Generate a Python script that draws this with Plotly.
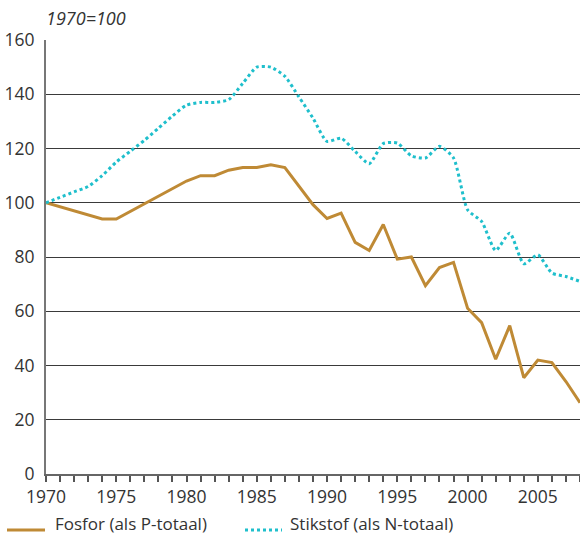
import plotly.graph_objects as go

years = list(range(1970, 2009))

# Fosfor (als P-totaal), index 1970=100
fosfor = [100, 98.5, 97, 95.5, 94, 94, 96.8, 99.6, 102.4, 105.2,
          108, 110, 110, 112, 113, 113, 114, 113, 106, 99.3,
          94.2, 96.2, 85.4, 82.4, 92, 79.2, 80, 69.4, 76.1, 78,
          61.1, 55.8, 42.3, 54.7, 35.5, 42, 41.1, 34.1, 26.3]

# Stikstof (als N-totaal), index 1970=100
stikstof = [100, 102, 104, 106, 110, 115, 119, 123, 127.5, 132,
            136, 137, 137, 138, 144, 150, 150, 146.6, 139, 131.2,
            122.6, 123.8, 118.9, 114.4, 121.8, 122, 117.3, 116.5, 120.8, 116.5,
            97.4, 93.1, 82.4, 88.8, 77.5, 80.8, 74.1, 72.8, 71]

y_ticks = [0, 20, 40, 60, 80, 100, 120, 140, 160]
x_ticks = [1970, 1975, 1980, 1985, 1990, 1995, 2000, 2005]
series_names = ["Fosfor (als P-totaal)", "Stikstof (als N-totaal)"]
series_colors = ["#bf8a35", "#1fbfcc"]

FONT = "Open Sans"
TXT = "#333333"

W, H = 580, 536
ML, MR, MT, MB = 46, 0, 40, 62
PW, PH = W - ML - MR, H - MT - MB


def px_x(px):
    return (px - ML) / PW


def px_y(py):
    return (H - MB - py) / PH


fig = go.Figure()
fig.add_trace(go.Scatter(
    x=years, y=fosfor, mode="lines", name=series_names[0],
    line=dict(color=series_colors[0], width=3),
))
fig.add_trace(go.Scatter(
    x=years, y=stikstof, mode="lines", name=series_names[1],
    line=dict(color=series_colors[1], width=3, dash="dot",
              shape="spline", smoothing=0.6),
))

# legend drawn below the axis: sample line + label for each series
legend_items = [
    (7, 45, "solid", 53),
    (245, 282, "dot", 288),
]
shapes = []
annotations = []
for (x0, x1, dash, tx), name, col in zip(legend_items, series_names, series_colors):
    shapes.append(dict(
        type="line", xref="paper", yref="paper",
        x0=px_x(x0), x1=px_x(x1), y0=px_y(530), y1=px_y(530),
        line=dict(color=col, width=3, dash=dash),
    ))
    annotations.append(dict(
        text=name, xref="paper", yref="paper", x=px_x(tx), y=px_y(523),
        xanchor="left", yanchor="middle", showarrow=False,
        font=dict(family=FONT, size=17, color=TXT),
    ))

annotations.append(dict(
    text="<i>1970=100</i>", x=px_x(44), xref="paper", xanchor="left",
    y=px_y(18), yref="paper", yanchor="middle", showarrow=False,
    font=dict(family=FONT, size=18, color=TXT),
))

fig.update_layout(
    width=W, height=H,
    margin=dict(l=ML, r=MR, t=MT, b=MB),
    paper_bgcolor="white", plot_bgcolor="white",
    font=dict(family=FONT, size=17, color=TXT),
    showlegend=False,
    xaxis=dict(
        range=[1970, 2008], tickmode="array", tickvals=x_ticks,
        ticks="outside", ticklen=6, tickwidth=1.5, tickcolor="#555555",
        minor=dict(dtick=1, tick0=1970, ticks="outside", ticklen=6,
                   tickwidth=1.5, tickcolor="#555555", showgrid=False),
        showgrid=False, zeroline=False,
        showline=True, linecolor="#666666", linewidth=2,
        tickfont=dict(family=FONT, size=17.5, color=TXT),
    ),
    yaxis=dict(
        range=[0, 160], tickmode="array", tickvals=y_ticks,
        ticks="", showgrid=True, gridcolor="#3a3a3a", gridwidth=1.3,
        zeroline=False, showline=True, linecolor="#777777", linewidth=2,
        tickfont=dict(family=FONT, size=17.5, color=TXT),
        ticklabelstandoff=6,
    ),
    shapes=shapes,
    annotations=annotations,
)

fig.write_html("out.html")
